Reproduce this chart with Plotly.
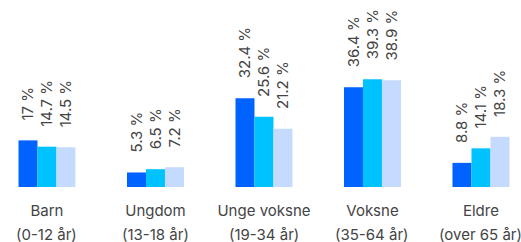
import plotly.graph_objects as go

categories = ["Barn", "Ungdom", "Unge voksne", "Voksne", "Eldre"]
subtitles = ["(0-12 år)", "(13-18 år)", "(19-34 år)", "(35-64 år)", "(over 65 år)"]
series_a = [17, 5.3, 32.4, 36.4, 8.8]
series_b = [14.7, 6.5, 25.6, 39.3, 14.1]
series_c = [14.5, 7.2, 21.2, 38.9, 18.3]
labels_a = ["17 %", "5.3 %", "32.4 %", "36.4 %", "8.8 %"]
labels_b = ["14.7 %", "6.5 %", "25.6 %", "39.3 %", "14.1 %"]
labels_c = ["14.5 %", "7.2 %", "21.2 %", "38.9 %", "18.3 %"]

colors = ["#0062FF", "#00C2FF", "#C4DAFF"]
pad = "\u00a0" * 4
FONT = "Inter"
TXT = "#444444"

fig = go.Figure()
for vals, labs, col in zip([series_a, series_b, series_c], [labels_a, labels_b, labels_c], colors):
    fig.add_trace(go.Bar(
        x=categories, y=vals, marker=dict(color=col, line=dict(width=0)),
        text=[pad + l for l in labs], textposition="outside", textangle=-90,
        constraintext="none", cliponaxis=False,
        textfont=dict(family=FONT, size=15, color=TXT),
        hoverinfo="skip", showlegend=False,
    ))

for i, s in enumerate(subtitles):
    fig.add_annotation(x=i, y=0, xref="x", yref="paper", text=s, showarrow=False,
                       yanchor="middle", yshift=-47,
                       font=dict(family=FONT, size=15, color=TXT))

fig.update_layout(
    width=521, height=242, margin=dict(l=0, r=0, t=0, b=55),
    barmode="group", bargap=0.475, bargroupgap=0,
    plot_bgcolor="white", paper_bgcolor="white",
    xaxis=dict(range=[-0.433, 4.369], showgrid=False, zeroline=False, showline=False,
               ticks="outside", ticklen=10, tickcolor="rgba(0,0,0,0)",
               tickfont=dict(family=FONT, size=15, color=TXT)),
    yaxis=dict(range=[0, 68.2], visible=False),
)
fig.write_html("out.html", config={"displayModeBar": False},
               post_script="document.body.style.margin='0';document.body.style.overflow='hidden';")
